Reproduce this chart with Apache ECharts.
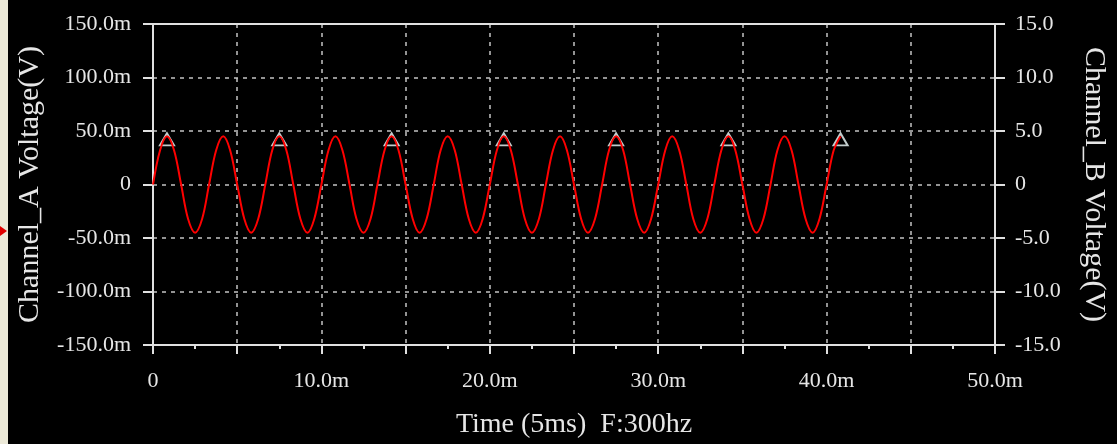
<!DOCTYPE html>
<html>
<head>
<meta charset="utf-8">
<script src="https://cdn.jsdelivr.net/npm/echarts@6/dist/echarts.min.js"></script>
<style>
html,body{margin:0;padding:0;background:#000;}
#chart{width:1117px;height:444px;}
</style>
</head>
<body>
<div id="chart"></div>
<script>
// Time samples (ms) of Channel A trace
var timeMs = [
  0, 0.42, 0.83, 1.25, 1.67, 2.08, 2.50, 2.92, 3.33, 3.75, 4.17, 4.58, 5.00, 5.42, 5.83, 6.25, 6.67, 7.08, 7.50, 7.92, 8.33, 8.75, 9.17, 9.58,
  10.00, 10.42, 10.83, 11.25, 11.67, 12.08, 12.50, 12.92, 13.33, 13.75, 14.17, 14.58, 15.00, 15.42, 15.83, 16.25, 16.67, 17.08, 17.50, 17.92, 18.33, 18.75, 19.17, 19.58,
  20.00, 20.42, 20.83, 21.25, 21.67, 22.08, 22.50, 22.92, 23.33, 23.75, 24.17, 24.58, 25.00, 25.42, 25.83, 26.25, 26.67, 27.08, 27.50, 27.92, 28.33, 28.75, 29.17, 29.58,
  30.00, 30.42, 30.83, 31.25, 31.67, 32.08, 32.50, 32.92, 33.33, 33.75, 34.17, 34.58, 35.00, 35.42, 35.83, 36.25, 36.67, 37.08, 37.50, 37.92, 38.33, 38.75, 39.17, 39.58,
  40.00, 40.42, 40.83
];
// Channel A voltage (mV) at those times
var channelA = [
  0, 32, 45, 32, 0, -32, -45, -32, 0, 32, 45, 32, 0, -32, -45, -32, 0, 32, 45, 32, 0, -32, -45, -32,
  0, 32, 45, 32, 0, -32, -45, -32, 0, 32, 45, 32, 0, -32, -45, -32, 0, 32, 45, 32, 0, -32, -45, -32,
  0, 32, 45, 32, 0, -32, -45, -32, 0, 32, 45, 32, 0, -32, -45, -32, 0, 32, 45, 32, 0, -32, -45, -32,
  0, 32, 45, 32, 0, -32, -45, -32, 0, 32, 45, 32, 0, -32, -45, -32, 0, 32, 45, 32, 0, -32, -45, -32,
  0, 32, 45
];
// Cursor markers
var markerTimes = [0.83, 7.50, 14.17, 20.83, 27.50, 34.17, 40.83];
var markerValues = [45, 45, 45, 45, 45, 45, 45];
// Axis labels
var xTitle = 'Time (5ms)  F:300hz';
var yLeftTitle = 'Channel_A Voltage(V)';
var yRightTitle = 'Channel_B Voltage(V)';

var lineData = timeMs.map(function (t, i) { return [t, channelA[i]]; });
var markData = markerTimes.map(function (t, i) { return [t, markerValues[i]]; });

var FONT = '"Liberation Serif", "DejaVu Serif", serif';
var TXT = '#e6e6e6';
var AXIS = '#e0e0e0';
var GRIDC = '#c4c4c4';

var chart = echarts.init(document.getElementById('chart'), null, {renderer: 'canvas'});
chart.setOption({
  backgroundColor: '#000',
  animation: false,
  grid: {left: 153, right: 119, top: 24, bottom: 98, containLabel: false},
  xAxis: [{
    type: 'value', min: 0, max: 50, interval: 5, position: 'bottom',
    name: xTitle, nameLocation: 'middle', nameGap: 66,
    nameTextStyle: {color: TXT, fontFamily: FONT, fontSize: 28},
    axisLine: {onZero: false, lineStyle: {color: AXIS, width: 2}},
    axisTick: {show: true, length: 9, lineStyle: {color: AXIS, width: 2},
      interval: function (i, v) { return i % 2 === 0; }},
    minorTick: {show: true, splitNumber: 2, length: 4, lineStyle: {color: AXIS, width: 2}},
    axisLabel: {color: TXT, fontFamily: FONT, fontSize: 22, margin: 25,
      formatter: function (v) { if (v === 0) return '0'; if (v % 10 !== 0) return ''; return v.toFixed(1) + 'm'; }},
    splitLine: {show: true, lineStyle: {color: GRIDC, type: [4, 5], width: 1.5}}
  }, {
    type: 'value', min: 0, max: 50, position: 'top',
    axisLine: {show: true, onZero: false, lineStyle: {color: AXIS, width: 2}},
    axisTick: {show: false}, axisLabel: {show: false}, splitLine: {show: false}
  }],
  yAxis: [{
    type: 'value', min: -150, max: 150, interval: 50, position: 'left',
    name: yLeftTitle, nameLocation: 'middle', nameGap: 108, nameRotate: 90,
    nameTextStyle: {color: TXT, fontFamily: FONT, fontSize: 30},
    axisLine: {show: true, onZero: false, lineStyle: {color: AXIS, width: 2}},
    axisTick: {show: true, length: 10, lineStyle: {color: AXIS, width: 2}},
    axisLabel: {color: TXT, fontFamily: FONT, fontSize: 22, margin: 22,
      formatter: function (v) { return v === 0 ? '0' : v.toFixed(1) + 'm'; }},
    splitLine: {show: true, lineStyle: {color: GRIDC, type: [4, 5], width: 1.5}}
  }, {
    type: 'value', min: -15, max: 15, interval: 5, position: 'right',
    name: yRightTitle, nameLocation: 'middle', nameGap: 84, nameRotate: -90,
    nameTextStyle: {color: TXT, fontFamily: FONT, fontSize: 30},
    axisLine: {show: true, onZero: false, lineStyle: {color: AXIS, width: 2}},
    axisTick: {show: true, length: 10, lineStyle: {color: AXIS, width: 2}},
    axisLabel: {color: TXT, fontFamily: FONT, fontSize: 22, margin: 20,
      formatter: function (v) { return v === 0 ? '0' : v.toFixed(1); }},
    splitLine: {show: false}
  }],
  series: [{
    type: 'line', xAxisIndex: 0, yAxisIndex: 0, data: lineData,
    smooth: 0.35, showSymbol: false, symbol: 'none',
    lineStyle: {color: '#ff0000', width: 2}
  }, {
    type: 'scatter', xAxisIndex: 0, yAxisIndex: 0, data: markData,
    symbol: 'triangle', symbolSize: [14, 12], symbolOffset: [0, 3],
    itemStyle: {color: 'rgba(0,0,0,0)', borderColor: '#f2ffff', borderWidth: 2}
  }],
  graphic: [
    {type: 'rect', left: 0, top: 0, shape: {width: 8, height: 444}, style: {fill: '#ece9d8'}},
    {type: 'polygon', shape: {points: [[0, 226], [7, 231], [0, 236]]}, style: {fill: '#e00000'}}
  ]
});
</script>
</body>
</html>
